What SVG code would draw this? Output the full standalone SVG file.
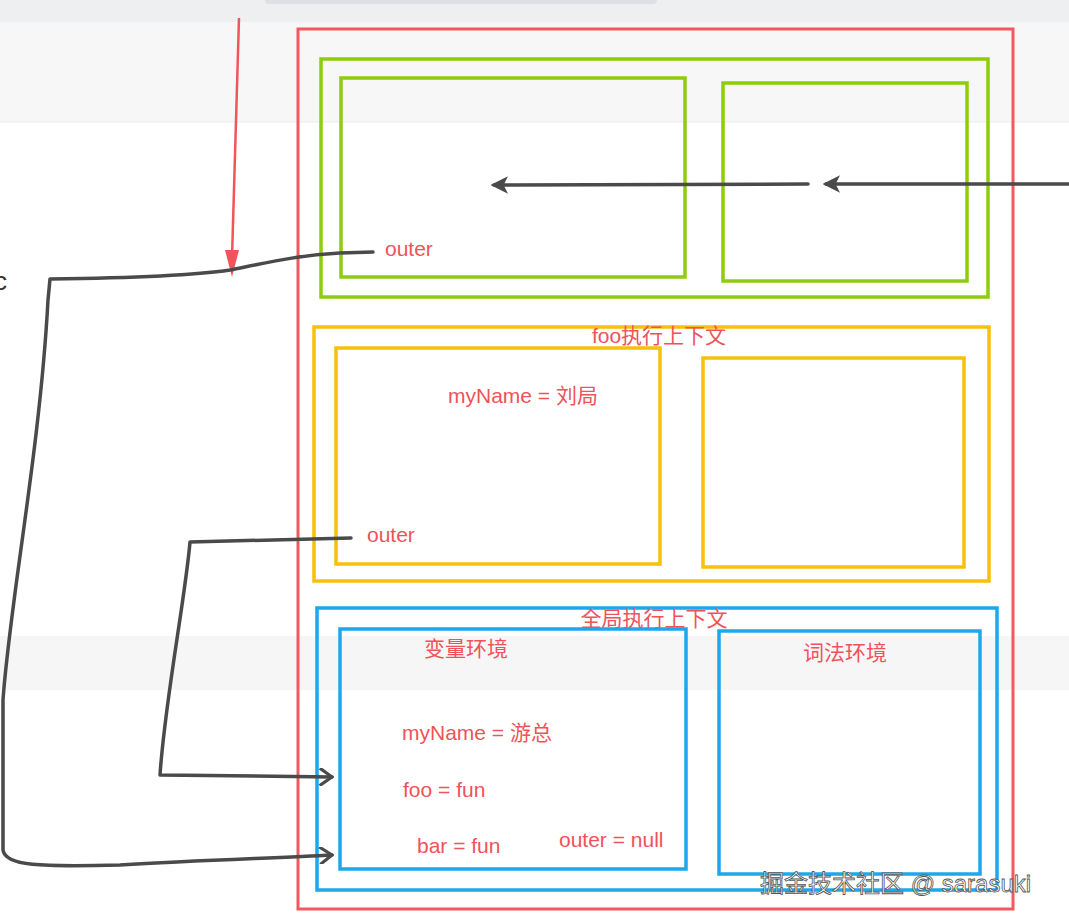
<svg xmlns="http://www.w3.org/2000/svg" width="1069" height="921" viewBox="0 0 1069 921">
<defs>
<style>
.t{font-family:"Liberation Sans","Noto Sans CJK SC",sans-serif;font-size:21px;fill:#f0525a}
.box{fill:none;stroke-width:3.5}
.g{stroke:#8fcc0c}.y{stroke:#f7c00c}.b{stroke:#1ea7ea}
.ln{fill:none;stroke:#4a4a4a;stroke-width:3.5;stroke-linecap:round;stroke-linejoin:round}
</style>
<marker id="ah" viewBox="0 0 10 10" refX="8" refY="5" markerWidth="5" markerHeight="5" orient="auto"><path d="M0,0 L10,5 L0,10 L2.5,5 z" fill="#4a4a4a"/></marker>
<marker id="oh" viewBox="0 0 10 10" refX="9" refY="5" markerWidth="5" markerHeight="5" orient="auto"><path d="M2,0 L9,5 L2,10" fill="none" stroke="#4a4a4a" stroke-width="1.8"/></marker>
</defs>
<rect width="1069" height="921" fill="#fff"/>
<rect width="1069" height="22" fill="#eeeff1"/>
<rect x="265" y="-6" width="392" height="10" rx="4" fill="#dfe0e3"/>
<rect y="22" width="1069" height="100" fill="#f7f7f8"/>
<line x1="0" y1="122" x2="1069" y2="122" stroke="#ebebeb"/>
<rect y="636" width="1069" height="54" fill="#f6f6f6"/>
<text x="-6" y="290" style="font-family:'Liberation Sans',sans-serif;font-size:26px;fill:#333">c</text>

<g id="outer-frame"><rect x="298" y="29" width="715" height="880" fill="none" stroke="#ef5a5f" stroke-width="3"/></g>
<g id="bar-ctx"><rect x="321" y="59" width="667" height="238" class="box g"/></g>
<g id="bar-var"><rect x="341" y="78" width="344" height="199" class="box g"/><text class="t" x="385" y="256">outer</text></g>
<g id="bar-lex"><rect x="723" y="83" width="244" height="198" class="box g"/></g>
<g id="foo-ctx"><rect x="314" y="327" width="675" height="254" class="box y"/><text class="t" x="659" y="343" text-anchor="middle">foo执行上下文</text></g>
<g id="foo-var"><rect x="336" y="348" width="324" height="216" class="box y"/><text class="t" x="523" y="403" text-anchor="middle">myName = 刘局</text><text class="t" x="367" y="542">outer</text></g>
<g id="foo-lex"><rect x="703" y="358" width="261" height="209" class="box y"/></g>
<g id="global-ctx"><rect x="317" y="608" width="680" height="282" class="box b"/><text class="t" x="654" y="626" text-anchor="middle">全局执行上下文</text></g>
<g id="global-var"><rect x="340" y="629" width="346" height="240" class="box b"/>
<text class="t" x="466" y="656" text-anchor="middle">变量环境</text>
<text class="t" x="402" y="740">myName = 游总</text>
<text class="t" x="403" y="797">foo = fun</text>
<text class="t" x="417" y="853">bar = fun</text>
<text class="t" x="559" y="847">outer = null</text></g>
<g id="global-lex"><rect x="719" y="631" width="261" height="243" class="box b"/><text class="t" x="845" y="660" text-anchor="middle">词法环境</text></g>

<g id="connectors">
<line x1="239" y1="18" x2="232" y2="258" stroke="#f2545b" stroke-width="2.5"/>
<path d="M225,250 L232,277 L239,250 Z" fill="#f2545b"/>
<path class="ln" d="M1069,184 L826,184" marker-end="url(#ah)"/>
<path class="ln" d="M808,184 L494,185" marker-end="url(#ah)"/>
<path class="ln" d="M373,252 L340,253 C300,255 270,262 230,270 C190,276 130,278 50,279 L48,300 C40,450 10,600 3,700 L3,850 C5,866 40,867 120,865 C200,860 280,858 332,855" marker-end="url(#oh)"/>
<path class="ln" d="M351,538 L190,542 C185,600 165,700 160,775 L332,777" marker-end="url(#oh)"/>
</g>
<text x="760" y="892" style="font-family:'Liberation Sans','Noto Sans CJK SC',sans-serif;font-size:24px;fill:#fff;stroke:#555;stroke-width:0.8">掘金技术社区 @ sarasuki</text>
</svg>
